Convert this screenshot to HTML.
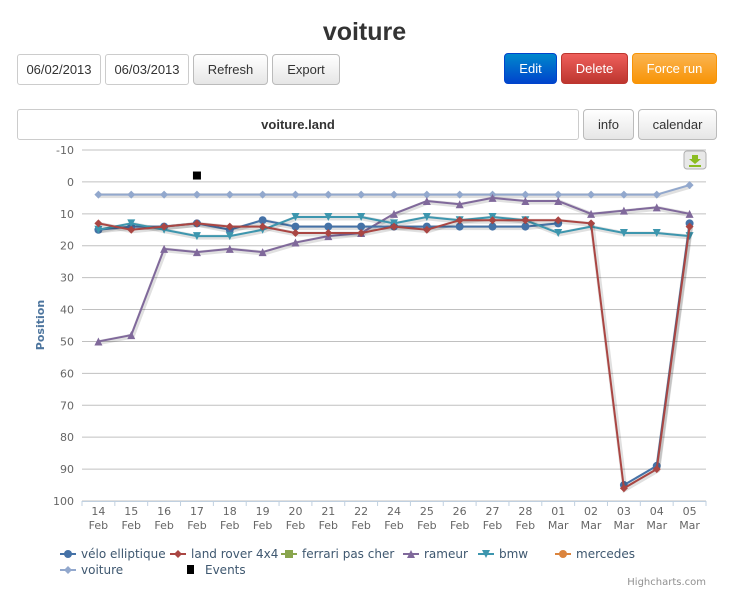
<!DOCTYPE html>
<html><head><meta charset="utf-8">
<style>
body{margin:0;width:729px;height:593px;background:#fff;font-family:"Liberation Sans",sans-serif;position:relative;overflow:hidden}
.abs{position:absolute}
h1{position:absolute;left:0;width:729px;top:18px;margin:0;text-align:center;font-size:25px;font-weight:bold;color:#333}
.inp{position:absolute;border:1px solid #ccc;border-radius:3px;font-size:13px;color:#333;box-sizing:border-box;display:flex;align-items:center;justify-content:center;background:#fff}
.btn{position:absolute;border:1px solid #bbb;border-radius:4px;font-size:13px;color:#333;box-sizing:border-box;display:flex;align-items:center;justify-content:center;background:linear-gradient(#fff,#e6e6e6)}
#chart text{font-family:"DejaVu Sans",sans-serif}
</style></head><body>
<h1>voiture</h1>
<div class="inp" style="left:17px;top:54px;width:84px;height:31px">06/02/2013</div>
<div class="inp" style="left:105px;top:54px;width:84px;height:31px">06/03/2013</div>
<div class="btn" style="left:193px;top:54px;width:75px;height:31px">Refresh</div>
<div class="btn" style="left:272px;top:54px;width:68px;height:31px">Export</div>
<div class="btn" style="left:504px;top:53px;width:53px;height:31px;color:#fff;border-color:#04c;background:linear-gradient(#08c,#04c)">Edit</div>
<div class="btn" style="left:561px;top:53px;width:67px;height:31px;color:#fff;border-color:#bd362f;background:linear-gradient(#ee5f5b,#bd362f)">Delete</div>
<div class="btn" style="left:632px;top:53px;width:85px;height:31px;color:#fff;border-color:#f89406;background:linear-gradient(#fbb450,#f89406)">Force run</div>
<div class="inp" style="left:17px;top:109px;width:562px;height:31px;font-weight:bold">voiture.land</div>
<div class="btn" style="left:583px;top:109px;width:51px;height:31px">info</div>
<div class="btn" style="left:638px;top:109px;width:79px;height:31px">calendar</div>
<svg id="chart" class="abs" style="left:0;top:0" width="729" height="593"></svg>
<script>
const categories=["14 Feb","15 Feb","16 Feb","17 Feb","18 Feb","19 Feb","20 Feb","21 Feb","22 Feb","24 Feb","25 Feb","26 Feb","27 Feb","28 Feb","01 Mar","02 Mar","03 Mar","04 Mar","05 Mar"];
const yTicks=[-10,0,10,20,30,40,50,60,70,80,90,100];
const velo=[15,14,14,13,15,12,14,14,14,14,14,14,14,14,13,null,95,89,13];
const landRover=[13,15,14,13,14,14,16,16,16,14,15,12,12,12,12,13,96,90,14];
const bmw=[15,13,15,17,17,15,11,11,11,13,11,12,11,12,16,14,16,16,17];
const rameur=[50,48,21,22,21,22,19,17,16,10,6,7,5,6,6,10,9,8,10];
const voiture=[4,4,4,4,4,4,4,4,4,4,4,4,4,4,4,4,4,4,1];
const eventIdx=[3];const eventVal=[-2];
const NS="http://www.w3.org/2000/svg",svg=document.getElementById('chart');
const L=82,R=706,T=150,B=501;
const x=i=>L+(R-L)/categories.length*(i+0.5);
const y=v=>T+(v+10)/110*(B-T);
function mk(t,a,p){const e=document.createElementNS(NS,t);for(const k in a)e.setAttribute(k,a[k]);(p||svg).appendChild(e);return e;}
yTicks.forEach(v=>{
 const g=mk('line',{x1:L,x2:R,y1:y(v),y2:y(v),stroke:'#c0c0c0'});
 
 
 const t=mk('text',{x:74,y:y(v)+4,'text-anchor':'end','font-size':11,fill:'#666'});t.textContent=v;
 
 
});
mk('line',{x1:L,x2:R,y1:B+.5,y2:B+.5,stroke:'#c0d0e0'});
categories.forEach((c,i)=>{
 const xe=L+(R-L)/categories.length*i;
 mk('line',{x1:xe,x2:xe,y1:B,y2:B+5,stroke:'#c0d0e0'});
 const [d,m]=c.split(' ');
 const t=mk('text',{x:x(i),y:B+14,'text-anchor':'middle','font-size':11,fill:'#666'});t.textContent=d;
 
 
 const t2=mk('text',{x:x(i),y:B+28,'text-anchor':'middle','font-size':11,fill:'#666'});t2.textContent=m;
});
mk('line',{x1:R,x2:R,y1:B,y2:B+5,stroke:'#c0d0e0'});
const yt=mk('text',{x:44,y:325,transform:'rotate(-90 44 325)','text-anchor':'middle','font-size':11,'font-weight':'bold',fill:'#4d759e'});yt.textContent='Position';


function marker(type,cx,cy,col,g){
 if(type==='circle')return mk('circle',{cx,cy,r:4,fill:col},g);
 if(type==='diamond')return mk('path',{d:`M${cx} ${cy-4}L${cx+4} ${cy}L${cx} ${cy+4}L${cx-4} ${cy}Z`,fill:col},g);
 if(type==='tri')return mk('path',{d:`M${cx} ${cy-4}L${cx+4} ${cy+4}L${cx-4} ${cy+4}Z`,fill:col},g);
 if(type==='tridown')return mk('path',{d:`M${cx-4} ${cy-4}L${cx+4} ${cy-4}L${cx} ${cy+4}Z`,fill:col},g);
 if(type==='square')return mk('rect',{x:cx-4,y:cy-4,width:8,height:8,fill:col},g);
}
function series(data,col,type,name){
 const g=mk('g',{});
 
 
 let d='',pen=false;
 data.forEach((v,i)=>{if(v==null){pen=false;return;}d+=(pen?'L':'M')+x(i)+' '+y(v);pen=true;});
 mk('path',{d,fill:'none',stroke:'rgba(0,0,0,0.12)','stroke-width':5,transform:'translate(1,1)'},g);
 mk('path',{d,fill:'none',stroke:col,'stroke-width':2},g);
 data.forEach((v,i)=>{if(v!=null)marker(type,x(i),y(v),col,g);});
}
series(voiture,'#92a8cd','diamond','series-voiture');
series(rameur,'#80699b','tri','series-rameur');
series(velo,'#4572a7','circle','series-velo-elliptique');
series(bmw,'#3d96ae','tridown','series-bmw');
series(landRover,'#aa4643','diamond','series-land-rover');
eventIdx.forEach((ix,k)=>{const e=mk('rect',{x:x(ix)-4,y:y(eventVal[k])-4,width:8,height:8,fill:'#000'});
 
 });
const eb=mk('rect',{x:684,y:151,width:22,height:18,rx:3,fill:'#e8e8e8',stroke:'#b0b0b0'});


mk('path',{d:'M692 155h6v4h3l-6 5l-6-5h3z',fill:'#8bbc21'});mk('rect',{x:689,y:165,width:12,height:2,fill:'#8bbc21'});
const leg=[['vélo elliptique','#4572a7','circle',60,558],['land rover 4x4','#aa4643','diamond',170,558],['ferrari pas cher','#89a54e','square',281,558],['rameur','#80699b','tri',403,558],['bmw','#3d96ae','tridown',478,558],['mercedes','#db843d','circle',555,558],['voiture','#92a8cd','diamond',60,574]];
leg.forEach(l=>{const g=mk('g',{});
 
 
 mk('line',{x1:l[3],x2:l[3]+16,y1:l[4]-4,y2:l[4]-4,stroke:l[1],'stroke-width':2},g);
 marker(l[2],l[3]+8,l[4]-4,l[1],g);
 const t=mk('text',{x:l[3]+21,y:l[4],'font-size':12,fill:'#3e576f'},g);t.textContent=l[0];});
const ge=mk('g',{});


mk('rect',{x:187,y:565,width:7,height:9,fill:'#000'},ge);
const te=mk('text',{x:205,y:574,'font-size':12,fill:'#3e576f'},ge);te.textContent='Events';
const cr=mk('text',{x:706,y:585,'text-anchor':'end','font-size':10,fill:'#909090'});cr.textContent='Highcharts.com';


</script>
</body></html>
